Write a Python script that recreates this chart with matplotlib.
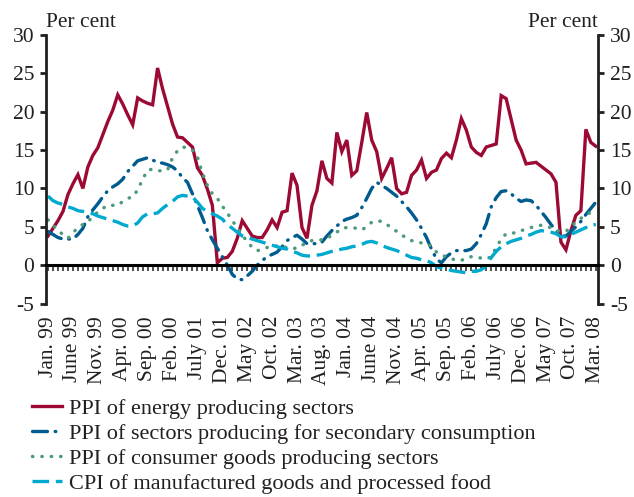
import matplotlib
matplotlib.use("Agg")
import matplotlib.pyplot as plt
import numpy as np

plt.rcParams['font.family'] = ['Liberation Serif', 'DejaVu Serif']

# monthly, Jan. 99 .. Mar. 08
energy = [3.8, 4.8, 5.8, 7.0, 9.2, 10.6, 11.8, 10.0, 12.8, 14.3,
          15.3, 17.0, 18.7, 20.2, 22.2, 21.0, 19.6, 18.3, 21.8, 21.4,
          21.1, 20.9, 25.7, 23.0, 20.7, 18.4, 16.7, 16.6, 16.0, 15.4,
          12.7, 11.7, 9.9, 7.8, 0.3, 0.9, 1.0, 1.8, 3.5, 5.8,
          4.8, 3.8, 3.6, 3.6, 4.6, 5.9, 4.9, 6.9, 7.1, 12.0,
          10.4, 4.9, 3.5, 7.8, 9.7, 13.6, 11.3, 10.7, 17.3, 14.8,
          16.3, 11.7, 12.3, 16.0, 19.9, 16.3, 14.8, 11.3, 12.6, 14.0,
          10.0, 9.3, 9.5, 11.7, 12.4, 13.7, 11.3, 12.1, 12.4, 13.9,
          14.6, 14.0, 16.3, 19.1, 17.6, 15.4, 14.7, 14.3, 15.4, 15.6,
          15.8, 22.1, 21.7, 19.0, 16.3, 15.0, 13.2, 13.3, 13.4, 12.9,
          12.4, 11.9, 10.8, 3.0, 2.0, 4.5, 6.5, 7.1, 17.7, 16.0, 15.5]

secondary = [4.4, 4.0, 3.6, 3.4, 3.4, 3.4, 4.0, 4.8, 6.3, 7.2,
             8.0, 8.9, 9.7, 10.2, 10.6, 11.2, 12.2, 12.9, 13.6, 13.8,
             14.0, 13.7, 13.4, 13.3, 13.1, 12.8, 12.3, 11.4, 10.8, 9.3,
             7.8, 6.2, 4.5, 3.3, 2.2, 1.1, 0.0, -1.2, -1.8, -1.9,
             -1.4, -0.8, 0.0, 0.6, 1.1, 1.4, 1.7, 2.4, 3.2, 3.6,
             3.9, 3.4, 2.8, 2.8, 2.8, 3.0, 3.8, 4.5, 5.1, 5.7,
             6.0, 6.2, 6.5, 7.5, 8.7, 10.0, 10.8, 10.4, 10.0, 9.5,
             9.0, 8.3, 7.6, 6.8, 5.9, 4.8, 3.6, 2.1, 0.8, 0.3,
             1.1, 1.6, 1.9, 1.9, 1.9, 2.1, 2.8, 4.0, 5.4, 7.6,
             8.8, 9.6, 9.7, 9.3, 8.7, 8.3, 8.5, 8.4, 7.8, 7.0,
             6.2, 5.3, 4.5, 3.8, 3.8, 4.4, 5.0, 5.7, 6.6, 7.4, 8.2]

consumer = [5.9, 5.2, 4.5, 4.0, 3.5, 4.2, 4.9, 5.3, 5.6, 6.4,
            6.9, 7.4, 7.8, 7.8, 7.8, 8.3, 8.7, 8.9, 9.8, 11.2,
            12.4, 12.5, 12.3, 12.3, 12.4, 14.0, 14.9, 15.4, 15.3, 15.0,
            14.1, 12.0, 10.4, 9.3, 8.7, 7.7, 6.8, 5.8, 4.9, 3.9,
            3.1, 2.3, 1.9, 2.0, 2.3, 2.5, 2.5, 2.4, 2.3, 2.2,
            2.2, 2.6, 2.9, 3.2, 3.3, 3.3, 3.5, 3.9, 4.3, 4.8,
            4.9, 4.9, 4.8, 4.6, 5.0, 5.6, 5.8, 5.7, 5.3, 4.9,
            4.4, 3.9, 3.6, 3.2, 3.0, 2.9, 2.8, 2.5, 1.7, 1.3,
            1.1, 0.8, 0.7, 0.6, 1.0, 1.1, 1.1, 0.9, 0.8, 1.1,
            2.3, 3.4, 4.1, 4.2, 4.2, 4.5, 4.7, 4.9, 5.1, 5.2,
            5.0, 4.9, 4.5, 4.4, 4.4, 5.0, 5.6, 6.1, 6.5, 6.9, 7.3]

cpi = [9.0, 8.4, 8.1, 7.9, 7.6, 7.4, 7.1, 7.0, 6.8, 6.7,
       6.4, 6.2, 6.0, 5.8, 5.6, 5.3, 5.1, 5.1, 5.5, 6.3,
       6.7, 6.7, 6.8, 7.4, 7.9, 8.3, 8.9, 9.1, 9.0, 8.9,
       8.2, 7.4, 7.0, 6.7, 6.4, 6.0, 5.3, 4.8, 4.3, 3.8,
       3.6, 3.4, 3.2, 3.0, 2.8, 2.6, 2.4, 2.2, 2.1, 1.8,
       1.6, 1.3, 1.2, 1.2, 1.3, 1.4, 1.6, 1.8, 1.9, 2.1,
       2.2, 2.4, 2.5, 2.7, 3.0, 3.1, 2.9, 2.6, 2.3, 2.1,
       1.9, 1.6, 1.3, 1.0, 0.9, 0.7, 0.6, 0.3, -0.2, -0.4,
       -0.5, -0.7, -0.8, -0.9, -1.0, -0.8, -0.8, -0.6, -0.1, 1.0,
       1.8, 2.4, 2.8, 3.1, 3.3, 3.5, 3.8, 4.0, 4.3, 4.5,
       4.4, 4.3, 4.1, 3.7, 3.7, 4.0, 4.3, 4.6, 4.9, 5.2, 5.3]

tick_labels = ['Jan. 99', 'June 99', 'Nov. 99', 'Apr. 00', 'Sep. 00', 'Feb. 00',
               'July 01', 'Dec. 01', 'May 02', 'Oct. 02', 'Mar. 03', 'Aug. 03',
               'Jan. 04', 'June 04', 'Nov. 04', 'Apr. 05', 'Sep. 05', 'Feb. 06',
               'July 06', 'Dec. 06', 'May 07', 'Oct. 07', 'Mar. 08']

names = ['PPI of energy producing sectors',
         'PPI of sectors producing for secondary consumption',
         'PPI of consumer goods producing sectors',
         'CPI of manufactured goods and processed food']

months = np.arange(len(energy))
fs = 15.5
txt = '#231f20'

fig = plt.figure(figsize=(6.34, 4.97), dpi=100)
ax = fig.add_axes([0.0726, 0.3893, 0.8711, 0.5403])

ax.plot(months, energy, color='#9c0a34', lw=2.4, solid_joinstyle='miter', label=names[0])
ax.plot(months, secondary, color='#005b8e', lw=2.4, dash_capstyle='round',
        linestyle=(0, (4.5, 2.3, 0.2, 2.3)), label=names[1])
ax.plot(months, consumer, color='#4d9a7a', lw=2.5, dash_capstyle='round',
        linestyle=(0, (0.1, 2.6)), label=names[2])
ax.plot(months, cpi, color='#00a9ce', lw=2.4, linestyle=(0, (5, 2)), label=names[3])

ax.set_xlim(-0.4, 110.5)
ax.set_ylim(-5, 30)
ax.set_yticks(range(-5, 31, 5))
ax.set_yticklabels([str(v) for v in range(-5, 31, 5)])

# zero line with monthly ticks
ax.spines['top'].set_visible(False)
ax.spines['bottom'].set_position(('data', 0))
ax.spines['bottom'].set_linewidth(2.2)
ax.set_xticks(months)
ax.tick_params(axis='x', direction='out', length=4.5, width=1.1, labelbottom=False, color='#231f20')
for s in ('left', 'right'):
    ax.spines[s].set_linewidth(2)
    ax.spines[s].set_color('#231f20')
ax.yaxis.set_ticks_position('both')
ax.tick_params(axis='y', direction='out', length=4.5, width=2, pad=4, labelsize=fs,
               labelcolor=txt, labelright=True, color='#231f20')

sec = ax.secondary_xaxis('bottom')
sec.set_xticks(months[::5])
sec.set_xticklabels(tick_labels, rotation=90, fontsize=fs, color=txt)
sec.tick_params(length=0, pad=9)
sec.spines['bottom'].set_visible(False)

ax.text(0.0, 1.03, 'Per cent', transform=ax.transAxes, ha='left', va='baseline',
        fontsize=fs, color=txt)
ax.text(1.0, 1.03, 'Per cent', transform=ax.transAxes, ha='right', va='baseline',
        fontsize=fs, color=txt)

fig.legend(loc='upper left', bbox_to_anchor=(0.05, 0.199), frameon=False,
           fontsize=16, handlelength=1.35, handletextpad=0.32, labelspacing=0.2,
           borderaxespad=0, borderpad=0, labelcolor=txt)

fig.savefig('out.png', dpi=100)
